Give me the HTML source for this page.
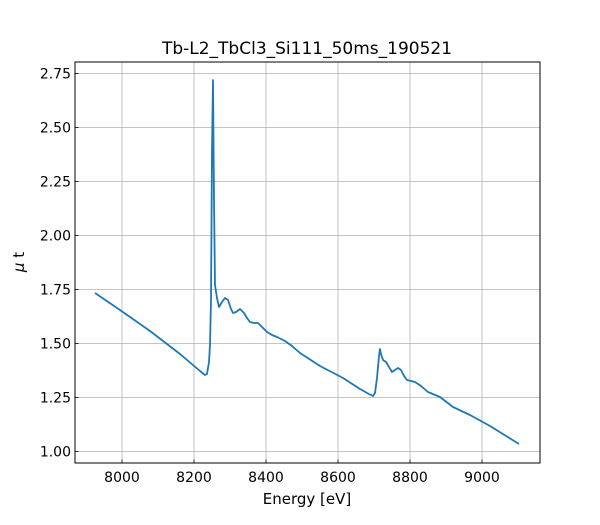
<!DOCTYPE html>
<html><head><style>body{margin:0;background:#fff}</style></head><body>
<svg width="600" height="520" xmlns="http://www.w3.org/2000/svg" font-family="DejaVu Sans, Liberation Sans, sans-serif">
<rect width="600" height="520" fill="#fff"/>
<g stroke="#b0b0b0" stroke-width="0.8">
<line x1="122" y1="62" x2="122" y2="463"/><line x1="194" y1="62" x2="194" y2="463"/><line x1="266" y1="62" x2="266" y2="463"/><line x1="338" y1="62" x2="338" y2="463"/><line x1="410" y1="62" x2="410" y2="463"/><line x1="482" y1="62" x2="482" y2="463"/>
<line x1="75" y1="73.5" x2="540" y2="73.5"/><line x1="75" y1="127.5" x2="540" y2="127.5"/><line x1="75" y1="181.5" x2="540" y2="181.5"/><line x1="75" y1="235.5" x2="540" y2="235.5"/><line x1="75" y1="289.5" x2="540" y2="289.5"/><line x1="75" y1="343.5" x2="540" y2="343.5"/><line x1="75" y1="397.5" x2="540" y2="397.5"/><line x1="75" y1="451.5" x2="540" y2="451.5"/>
</g>
<polyline fill="none" stroke="#1f77b4" stroke-width="1.8" stroke-linejoin="round" points="95,293 120,310 150,331 180,354 200,371 205,375 207,374 209,362 210,345 211,300 212,150 213,80 214,200 215,285 217,298 219,307 222,302 225,298 228,300 231,309 233,313 236,312 240,309 244,313 247,318 250,322 254,323 258,323 263,328 267,332 272,335 277,337 285,341 292,346 300,353 320,366 343,378 360,389 369,394 373,396 375,393 377,378 379,356 380,349 381,354 383,360 386,362 389,367 392,372 395,370 398,368 401,370 404,376 407,380 411,381 415,382 421,386 428,392 440,397 453,407 470,415 490,426 519,444"/>
<rect x="75" y="62" width="465" height="401" fill="none" stroke="#000" stroke-width="1"/>
<g stroke="#000" stroke-width="0.8">
<line x1="122" y1="463" x2="122" y2="459.5"/><line x1="194" y1="463" x2="194" y2="459.5"/><line x1="266" y1="463" x2="266" y2="459.5"/><line x1="338" y1="463" x2="338" y2="459.5"/><line x1="410" y1="463" x2="410" y2="459.5"/><line x1="482" y1="463" x2="482" y2="459.5"/>
<line x1="75" y1="73.5" x2="78.5" y2="73.5"/><line x1="75" y1="127.5" x2="78.5" y2="127.5"/><line x1="75" y1="181.5" x2="78.5" y2="181.5"/><line x1="75" y1="235.5" x2="78.5" y2="235.5"/><line x1="75" y1="289.5" x2="78.5" y2="289.5"/><line x1="75" y1="343.5" x2="78.5" y2="343.5"/><line x1="75" y1="397.5" x2="78.5" y2="397.5"/><line x1="75" y1="451.5" x2="78.5" y2="451.5"/>
</g>
<g font-size="14" text-anchor="middle" fill="#000">
<text x="122" y="482">8000</text><text x="194" y="482">8200</text><text x="266" y="482">8400</text><text x="338" y="482">8600</text><text x="410" y="482">8800</text><text x="482" y="482">9000</text>
</g>
<g font-size="14" text-anchor="end" fill="#000">
<text x="71" y="78.5">2.75</text><text x="71" y="132.5">2.50</text><text x="71" y="186.5">2.25</text><text x="71" y="240.5">2.00</text><text x="71" y="294.5">1.75</text><text x="71" y="348.5">1.50</text><text x="71" y="402.5">1.25</text><text x="71" y="456.5">1.00</text>
</g>
<text x="307" y="504" font-size="15" text-anchor="middle">Energy [eV]</text>
<text x="307" y="54" font-size="17" text-anchor="middle">Tb-L2_TbCl3_Si111_50ms_190521</text>
<text transform="translate(24,262) rotate(-90)" font-size="15" text-anchor="middle"><tspan font-style="italic">μ</tspan> t</text>
</svg>
</body></html>
